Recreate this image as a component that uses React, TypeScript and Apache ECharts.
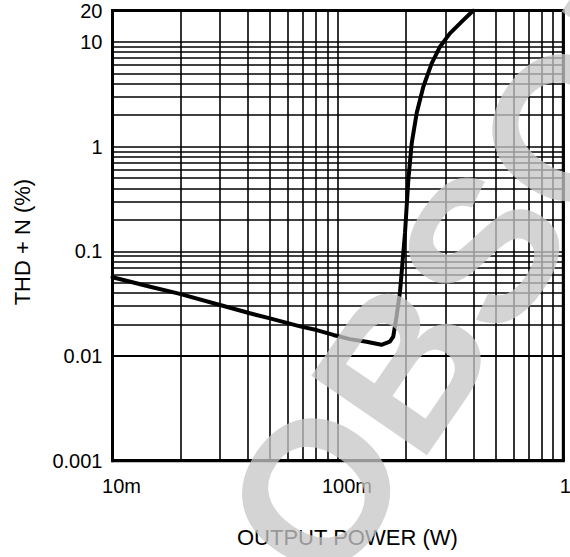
import React, { useEffect, useRef } from "react";
import * as echarts from "echarts";

// Curve (output power in W, THD+N in %)
const powerW = [0.01, 0.0147, 0.0199, 0.03, 0.0407, 0.05, 0.0679, 0.0805, 0.0955, 0.113, 0.134, 0.156, 0.17, 0.176, 0.182, 0.1886, 0.1985, 0.2053, 0.2126, 0.2237, 0.2393, 0.2607, 0.2838, 0.314, 0.36, 0.399];
const thdPct = [0.0565, 0.0459, 0.0392, 0.0307, 0.0256, 0.0229, 0.0192, 0.0177, 0.0159, 0.0145, 0.0137, 0.0128, 0.0137, 0.0153, 0.0238, 0.0412, 0.15, 0.48, 1.08, 2.1, 3.74, 6.26, 9.02, 12.1, 16.2, 20];

const xTickValues = [0.01, 0.1, 1];
const xTickLabels = ["10m", "100m", "1"];
const yTickValues = [0.001, 0.01, 0.1, 1, 10, 20];
const yTickLabels = ["0.001", "0.01", "0.1", "1", "10", "20"];

const xDecades = [0.01, 0.1];
const yDecades = [0.001, 0.01, 0.1, 1];
const minorSteps = [2, 3, 4, 5, 6, 7, 8, 9];

const watermarkText = "OBSOLETE";
const FONT = '"Liberation Sans", Arial, Helvetica, sans-serif';

function pickIndex(v: number, values: number[]) {
  let best = -1;
  let bestD = Infinity;
  values.forEach((t, i) => {
    const d = Math.abs(Math.log10(v) - Math.log10(t));
    if (d < bestD) {
      bestD = d;
      best = i;
    }
  });
  return bestD < 0.01 ? best : -1;
}

export default function App() {
  const ref = useRef<HTMLDivElement>(null);

  useEffect(() => {
    if (!ref.current) return;
    const chart = echarts.init(ref.current, undefined, { renderer: "svg" });

    const minorX: any[] = [];
    xDecades.forEach((d) => minorSteps.forEach((s) => minorX.push({ xAxis: +(d * s).toPrecision(6) })));
    const minorY: any[] = [];
    yDecades.forEach((d) => minorSteps.forEach((s) => minorY.push({ yAxis: +(d * s).toPrecision(6) })));

    const gridLine = { color: "#000", width: 1.6, type: "solid" as const };
    const labelFont = { fontFamily: FONT, fontSize: 20, color: "#000" };

    chart.setOption({
      animation: false,
      grid: {
        left: 112.5,
        right: 6.7,
        top: 10.5,
        bottom: 96.3,
        containLabel: false,
        outerBoundsMode: "none",
        show: true,
        borderColor: "#000",
        borderWidth: 3,
        backgroundColor: "#fff",
      },
      xAxis: {
        type: "log",
        logBase: 10,
        min: 0.01,
        max: 1,
        name: "OUTPUT POWER (W)",
        nameLocation: "middle",
        nameGap: 66,
        nameTextStyle: { fontFamily: FONT, fontSize: 22, color: "#000", padding: [0, 0, 0, 19] },
        axisLine: { show: true, lineStyle: { color: "#000", width: 3 } },
        axisTick: { show: false },
        axisLabel: {
          ...labelFont,
          margin: 15,
          showMinLabel: true,
          showMaxLabel: true,
          hideOverlap: false,
          formatter: (v: number) => {
            const i = pickIndex(v, xTickValues);
            if (i < 0) return "";
            return i === xTickValues.length - 1 ? `{e|${xTickLabels[i]}}` : `{s|${xTickLabels[i]}}`;
          },
          rich: {
            s: { ...labelFont, padding: [0, 0, 0, 18] },
            e: { ...labelFont, padding: [0, 0, 0, 4] },
          },
        },
        splitLine: { show: true, lineStyle: gridLine },
      },
      yAxis: {
        type: "log",
        logBase: 10,
        min: 0.001,
        max: 20,
        name: "THD + N (%)",
        nameLocation: "middle",
        nameGap: 79,
        nameTextStyle: { fontFamily: FONT, fontSize: 22, color: "#000", padding: [0, 13, 0, 0] },
        axisLine: { show: true, lineStyle: { color: "#000", width: 3 } },
        axisTick: { show: false },
        axisLabel: {
          ...labelFont,
          margin: 10,
          padding: [12, 0, 0, 0],
          showMinLabel: true,
          showMaxLabel: true,
          formatter: (v: number) => {
            const i = pickIndex(v, yTickValues);
            return i < 0 ? "" : yTickLabels[i];
          },
        },
        splitLine: { show: true, lineStyle: gridLine },
      },
      series: [
        {
          type: "line",
          data: powerW.map((x, i) => [x, thdPct[i]]),
          showSymbol: false,
          smooth: false,
          lineStyle: { color: "#000", width: 4, join: "round", cap: "round" },
          z: 5,
          silent: true,
          markLine: {
            silent: true,
            symbol: "none",
            label: { show: false },
            lineStyle: gridLine,
            z: 1,
            data: [...minorX, ...minorY],
          },
        },
      ],
      graphic: [
        {
          type: "text",
          x: 271,
          y: 557,
          rotation: (55.5 * Math.PI) / 180,
          z: 1000,
          silent: true,
          style: {
            text: watermarkText,
            fontSize: 204,
            fontWeight: "bold",
            fontFamily: FONT,
            fill: "rgba(198,198,198,0.76)",
            align: "left",
            verticalAlign: "middle",
          },
        },
      ],
    });

    return () => chart.dispose();
  }, []);

  return (
    <div
      ref={ref}
      style={{ position: "fixed", left: 0, top: 0, width: 570, height: 557, background: "#fff" }}
    />
  );
}
